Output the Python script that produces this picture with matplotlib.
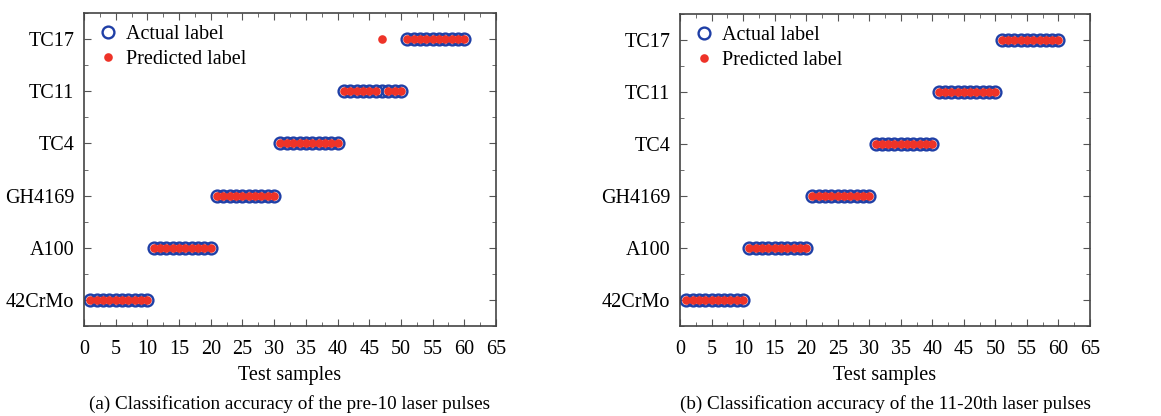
import matplotlib.pyplot as plt
from matplotlib.ticker import MultipleLocator

plt.rcParams['font.family'] = ['Liberation Serif', 'DejaVu Serif']

classes = ["42CrMo", "A100", "GH4169", "TC4", "TC11", "TC17"]
samples = list(range(1, 61))
actual = [1] * 10 + [2] * 10 + [3] * 10 + [4] * 10 + [5] * 10 + [6] * 10
# pre-10 pulses: sample 47 misclassified as TC17
pred_a = [1] * 10 + [2] * 10 + [3] * 10 + [4] * 10 + [5] * 6 + [6] + [5] * 3 + [6] * 10
pred_b = list(actual)

captions = ["(a) Classification accuracy of the pre-10 laser pulses",
            "(b) Classification accuracy of the 11-20th laser pulses"]

fs = 14.5
fig = plt.figure(figsize=(11.61, 4.16), dpi=100)
axes = [fig.add_axes([84 / 1161, 1 - 326 / 416, 412 / 1161, 313 / 416]),
        fig.add_axes([680 / 1161, 1 - 326 / 416, 410 / 1161, 312 / 416])]

for ax, pred, cap in zip(axes, [pred_a, pred_b], captions):
    ax.plot(samples, actual, 'o', ms=8.5, mfc='none', mec='#1f3fa6', mew=1.7,
            label='Actual label')
    ax.plot(samples, pred, 'o', ms=6.2, mfc='#ee3328', mec='#ee3328', mew=0,
            label='Predicted label')
    ax.set_xlim(0, 65)
    ax.set_ylim(0.5, 6.5)
    ax.xaxis.set_major_locator(MultipleLocator(5))
    ax.xaxis.set_minor_locator(MultipleLocator(2.5))
    ax.set_yticks(range(1, 7))
    ax.set_yticklabels(classes)
    ax.yaxis.set_minor_locator(MultipleLocator(0.5))
    ax.tick_params(which='both', direction='in', top=True, right=True,
                   labelsize=fs, color='#555555')
    ax.tick_params(axis='x', which='major', pad=10)
    ax.tick_params(axis='y', which='major', pad=7)
    ax.tick_params(which='major', length=5)
    ax.tick_params(which='minor', length=3)
    for s in ax.spines.values():
        s.set_color('#444444')
        s.set_linewidth(1.2)
    ax.set_xlabel('Test samples', fontsize=fs, labelpad=5)
    ax.legend(loc='upper left', frameon=False, fontsize=fs, handletextpad=0.3,
              borderaxespad=0.2, labelspacing=0.3, handlelength=1.2)
    ax.text(0.5, -0.25, cap, transform=ax.transAxes, ha='center', va='center',
            fontsize=13.8)

fig.savefig('out.png', dpi=100)
